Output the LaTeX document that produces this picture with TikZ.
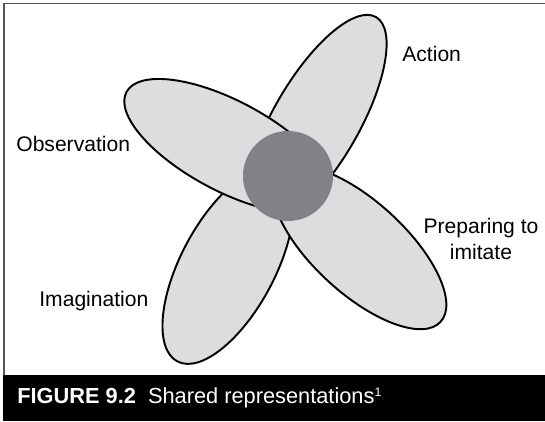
\documentclass[tikz,border=0pt]{standalone}
\usepackage{fontspec}
\setmainfont{Liberation Sans}
\usetikzlibrary{shapes.geometric}
\definecolor{petalgray}{RGB}{220,221,223}
\definecolor{coregray}{RGB}{128,130,133}
\definecolor{framegray}{RGB}{85,85,85}

\begin{document}
\begin{tikzpicture}[
    petal/.style={ellipse, draw=black, fill=petalgray, line width=1.1pt, inner sep=0pt},
    core/.style={circle, fill=coregray, minimum size=1.8cm, inner sep=0pt},
    petallabel/.style={font=\fontsize{12}{15.3}\selectfont, inner sep=0pt},
    captiontext/.style={font=\fontsize{12.4}{14}\selectfont, text=white, inner sep=0pt},
  ]
  \useasboundingbox (0,0) rectangle (10.9,8.42);

  % Frame and caption bar
  \draw[framegray, line width=1.1pt] (0.08,0.9) -- (0.08,8.35) -- (10.9,8.35);
  \fill[black] (0.06,0) rectangle (10.9,0.92);
  \node[captiontext, anchor=base west] (caption) at (0.34,0.34)
    {\textbf{FIGURE 9.2}\hspace{0.24cm}Shared representations\textsuperscript{\scriptsize 1}};

  % Petals
  \node[petal, minimum width=4.80cm, minimum height=1.72cm, rotate=60] (action) at (6.32,6.00) {};
  \node[petal, minimum width=4.32cm, minimum height=1.88cm, rotate=62] (imagination) at (4.56,3.10) {};
  \node[petal, minimum width=4.60cm, minimum height=1.80cm, rotate=-28] (observation) at (4.56,5.50) {};
  \node[petal, minimum width=4.40cm, minimum height=1.84cm, rotate=-42.5] (preparing) at (7.19,3.47) {};

  % Shared centre
  \node[core] (shared) at (5.76,4.90) {};

  % Labels
  \node[petallabel, anchor=base west] (actionlbl) at (8.04,7.18) {Action};
  \node[petallabel, anchor=base west] (observationlbl) at (0.32,5.38) {Observation};
  \node[petallabel, anchor=base west] (imaginationlbl) at (0.78,2.28) {Imagination};
  \node[petallabel, anchor=base, align=center] (preparinglbl) at (9.62,3.22) {Preparing to\\imitate};
\end{tikzpicture}
\end{document}
